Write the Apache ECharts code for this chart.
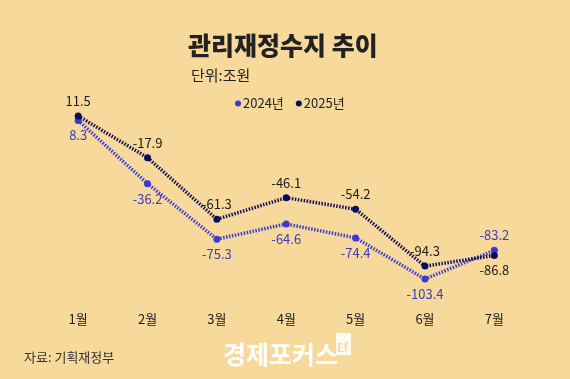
<!DOCTYPE html>
<html><head><meta charset="utf-8">
<script src="https://cdn.jsdelivr.net/npm/echarts@6/dist/echarts.min.js"></script>
<style>html,body{margin:0;padding:0;background:#f7d99c;}#c{width:570px;height:379px;}</style>
</head><body><div id="c"></div>
<script>
var categories = ['1월','2월','3월','4월','5월','6월','7월'];
var values2024 = [8.3, -36.2, -75.3, -64.6, -74.4, -103.4, -83.2];
var values2025 = [11.5, -17.9, -61.3, -46.1, -54.2, -94.3, -86.8];
var seriesNames = ['2024년', '2025년'];

var FONT = '"Noto Sans CJK KR", "Noto Sans", sans-serif';
var c24 = '#3a3ad4', c25 = '#0c0c5e';

function mk(vals, flipIdx, basePos) {
  return vals.map(function (v, i) {
    if (i === flipIdx) return { value: v, label: { position: basePos === 'top' ? 'bottom' : 'top' } };
    return v;
  });
}

var chart = echarts.init(document.getElementById('c'));
chart.setOption({
  backgroundColor: '#f7d99c',
  textStyle: { fontFamily: FONT },
  title: [
    { text: '관리재정수지 추이', left: 183, top: 28, textStyle: { fontFamily: FONT, fontSize: 25, fontWeight: 900, color: '#222' } },
    { text: '단위:조원', left: 186, top: 63, textStyle: { fontFamily: FONT, fontSize: 15, fontWeight: 'normal', color: '#222' } },
    { text: '자료: 기획재정부', left: 19, top: 346, textStyle: { fontFamily: FONT, fontSize: 13, fontWeight: 'normal', color: '#333' } },
    { text: '경제포커스', left: 218, top: 337, textStyle: { fontFamily: FONT, fontSize: 25, fontWeight: 'bold', color: '#ffffff' } }
  ],
  graphic: [
    { type: 'rect', left: 336, top: 333, shape: { width: 15, height: 22 }, style: { fill: '#ffffff', opacity: 0.85 } },
    { type: 'text', left: 337, top: 342, style: { text: 'Ef', fill: '#f7d99c', font: 'bold 11px ' + FONT } }
  ],
  legend: {
    data: seriesNames, top: 92, left: 230, itemGap: 12,
    icon: 'circle', itemWidth: 6, itemHeight: 6,
    textStyle: { fontFamily: FONT, fontSize: 13, color: '#222', padding: [0, 0, 0, -3] }
  },
  grid: { left: 43.5, right: 41, top: 103.9, bottom: 76.4, containLabel: false },
  xAxis: {
    type: 'category', data: categories, boundaryGap: true,
    axisLine: { show: false }, axisTick: { show: false }, splitLine: { show: false },
    axisLabel: { color: '#222', fontSize: 13, fontFamily: FONT, margin: 10 }
  },
  yAxis: {
    type: 'value', min: -120, max: 20, interval: 20, show: false,
    splitLine: { show: false }
  },
  series: [
    {
      name: seriesNames[0], type: 'line', data: mk(values2024, 6, 'bottom'),
      symbol: 'circle', symbolSize: 7, color: c24,
      lineStyle: { color: c24, width: 3.5, type: [1.5, 1.5] },
      itemStyle: { color: c24 },
      label: { show: true, position: 'bottom', distance: 5, color: '#3b3bbf', fontSize: 13, fontFamily: FONT },
      z: 2
    },
    {
      name: seriesNames[1], type: 'line', data: mk(values2025, 6, 'top'),
      symbol: 'circle', symbolSize: 7, color: c25,
      lineStyle: { color: c25, width: 3.5, type: [1.5, 1.5] },
      itemStyle: { color: c25 },
      label: { show: true, position: 'top', distance: 5, color: '#1a1a1a', fontSize: 13, fontFamily: FONT },
      z: 3
    }
  ]
});
</script></body></html>
